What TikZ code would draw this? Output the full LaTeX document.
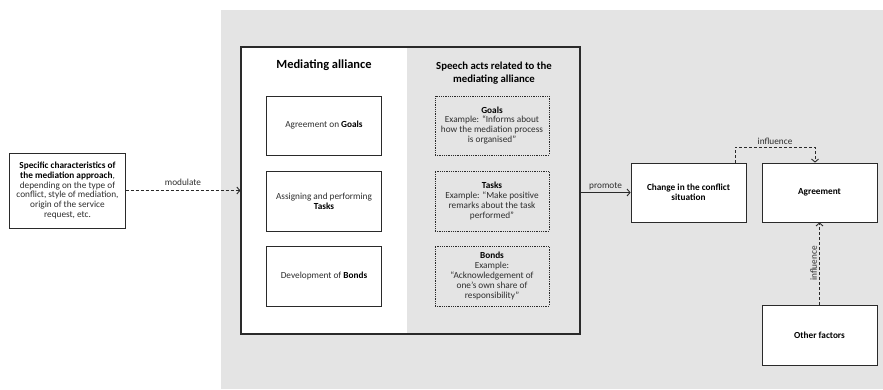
\documentclass[tikz,border=0pt]{standalone}
\usepackage{fontspec}
\setmainfont{Carlito}
\usetikzlibrary{arrows.meta}
\definecolor{bggray}{HTML}{E4E4E4}
\definecolor{txt}{HTML}{2E2E2E}
\definecolor{edge}{HTML}{2A2A2A}
\newcommand{\bfk}[1]{\textbf{\color{black}#1}}
\begin{document}
\begin{tikzpicture}[x=1bp,y=-1bp, font=\fontsize{9.3}{10}\selectfont,
 box/.style={draw=edge, line width=0.8bp, fill=white, align=center, inner sep=0pt, text=txt, minimum width=115bp},
 dotbox/.style={draw=edge, densely dotted, line width=0.8bp, align=center, inner sep=0pt, text=txt, minimum width=114bp, minimum height=59bp},
 conn/.style={draw=edge, line width=0.9bp, -{Straight Barb[length=3bp,width=7bp]}},
 dashconn/.style={conn, dash pattern=on 3bp off 2bp},
 lbl/.style={text=txt, inner sep=1bp}]
\useasboundingbox (0,0) rectangle (883,389);
\fill[bggray] (221,10) rectangle (883,389);
\fill[white] (241,47) rectangle (407,334);
\node[draw=edge, line width=1.2bp, minimum width=339bp, minimum height=287bp, inner sep=0pt] (main) at (410.5,190.5) {};

\node[text=black, font=\fontsize{12.5}{15}\selectfont\bfseries] (t1) at (324,65) {Mediating alliance};
\node[text=black, align=center, font=\fontsize{10.8}{13}\selectfont\bfseries] (t2) at (494,73) {Speech acts related to the\\mediating alliance};

\node[box, minimum height=59bp] (g) at (324,125.5) {Agreement on \bfk{Goals}};
\node[box, minimum height=60bp] (t) at (324,201) {Assigning and performing\\\bfk{Tasks}};
\node[box, minimum height=60bp] (b) at (324,276) {Development of \bfk{Bonds}};

\node[dotbox] (sg) at (492,125.5) {\bfk{Goals}\\Example: “Informs about\\how the mediation process\\is organised”};
\node[dotbox, minimum height=60bp] (st) at (492,201) {\bfk{Tasks}\\Example: “Make positive\\remarks about the task\\performed”};
\node[dotbox, minimum height=60bp] (sb) at (492,276) {\bfk{Bonds}\\Example:\\“Acknowledgement of\\one’s own share of\\responsibility”};

\node[box, minimum height=75bp, line width=1bp] (spec) at (67.5,190.5) {\bfk{Specific characteristics of}\\\bfk{the mediation approach},\\depending on the type of\\conflict, style of mediation,\\origin of the service\\request, etc.};

\node[box, minimum height=59bp] (change) at (688.5,192.5) {\bfk{Change in the conflict}\\\bfk{situation}};
\node[box, minimum height=59bp] (agree) at (819.5,192.5) {\bfk{Agreement}};
\node[box, minimum height=60bp] (other) at (819.5,335) {\bfk{Other factors}};

\draw[dashconn] (spec.east) -- (main.west) node[lbl, midway, above=3bp] (lm) {modulate};
\draw[conn] (main.east |- change.west) -- (change.west) node[lbl, midway, above=1bp] (lp) {promote};

\coordinate (i1) at (735,147);
\coordinate (i2) at (815,147);
\draw[dashconn] (change.north -| i1) -- (i1) -- (i2) node[lbl, midway, above=1bp] (li) {influence} -- (agree.north -| i2);
\draw[dashconn] (other.north) -- (agree.south) node[lbl, midway, sloped, above=1bp] (lo) {influence};
\end{tikzpicture}
\end{document}
